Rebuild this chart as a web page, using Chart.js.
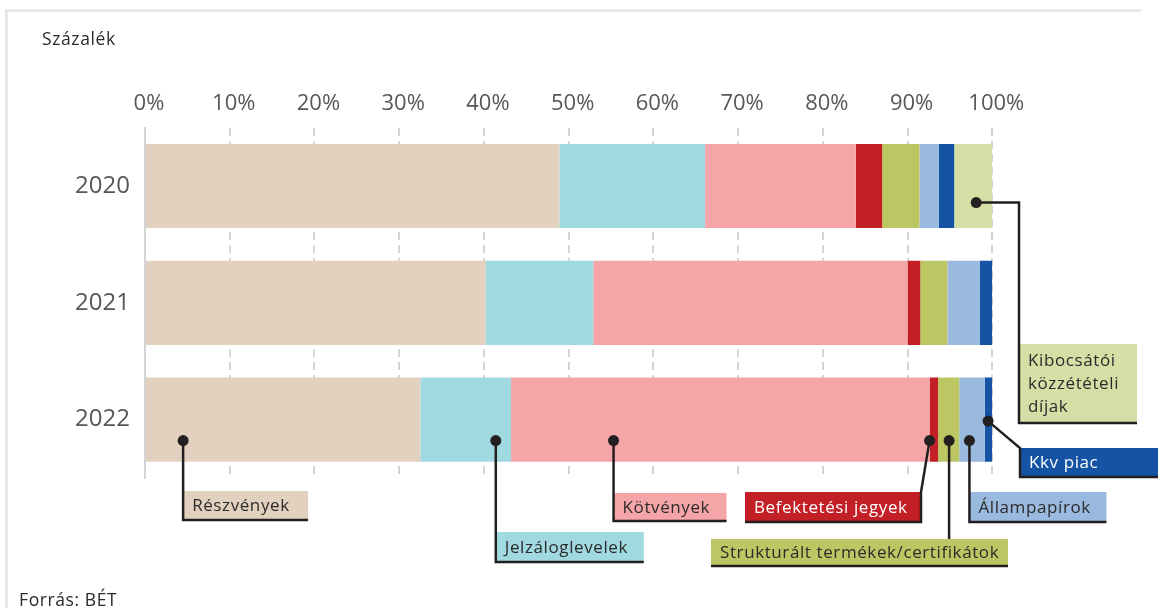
<!DOCTYPE html>
<html lang="hu">
<head>
<meta charset="utf-8">
<title>A BÉT forgalmának megoszlása termékcsoportonként</title>
<script src="https://cdn.jsdelivr.net/npm/chart.js@4.4.1/dist/chart.umd.min.js"></script>
<style>
  html, body { margin: 0; padding: 0; background: #fff; }
  #wrap { position: relative; width: 1158px; height: 608px; }
</style>
</head>
<body>
<div id="wrap"><canvas id="chart" width="1158" height="608"></canvas></div>
<script>
(function () {
  "use strict";

  // --- Adatok (százalék, évenként 100%) ------------------------------------
  var YEARS = ["2020", "2021", "2022"];
  var X_TICKS = [0, 10, 20, 30, 40, 50, 60, 70, 80, 90, 100];

  var SERIES = [
    "Részvények",
    "Jelzáloglevelek",
    "Kötvények",
    "Befektetési jegyek",
    "Strukturált termékek/certifikátok",
    "Állampapírok",
    "Kkv piac",
    "Kibocsátói közzétételi díjak"
  ];

  var RESZVENYEK  = [48.9, 40.2, 32.5];
  var JELZALOG    = [17.2, 12.7, 10.7];
  var KOTVENYEK   = [17.8, 37.1, 49.4];
  var BEFEKTETESI = [3.1, 1.5, 1.0];
  var STRUKTURALT = [4.4, 3.2, 2.5];
  var ALLAMPAPIR  = [2.3, 3.8, 3.0];
  var KKV         = [1.8, 1.5, 0.9];
  var KIBOCSATOI  = [4.5, 0, 0];

  var VALUES = [RESZVENYEK, JELZALOG, KOTVENYEK, BEFEKTETESI, STRUKTURALT, ALLAMPAPIR, KKV, KIBOCSATOI];

  // --- Megjelenés ----------------------------------------------------------
  var COLORS = ["#e2d1bf", "#a0d9e0", "#f5a5a8", "#c21f26", "#bcc662", "#9ab9de", "#1553a4", "#d5dea4"];
  var TEXT_ON = ["#2b2b2b", "#2b2b2b", "#2b2b2b", "#ffffff", "#2b2b2b", "#2b2b2b", "#ffffff", "#2b2b2b"];
  var FONT = "'Open Sans', 'DejaVu Sans', sans-serif";
  var INK = "#231f20";

  // Feliratdobozok: s = sorozat, row = év sora, at = a pötty helye (%),
  // dy = a pötty eltolása a sáv közepétől, box = [x|null, y, w, h].
  var CALLOUTS = [
    { s: 0, row: 2, at: 4.5,  dy: 21,  box: [null, 491, 125, 29], route: "down" },
    { s: 1, row: 2, at: 41.4, dy: 21,  box: [null, 532, 148, 30], route: "down" },
    { s: 2, row: 2, at: 55.3, dy: 21,  box: [null, 493, 113, 28], route: "down" },
    { s: 3, row: 2, at: 92.6, dy: 21,  box: [745, 492, 176, 30], route: "rightEdge" },
    { s: 4, row: 2, at: 94.9, dy: 21,  box: [711, 539, 297, 27], route: "top" },
    { s: 5, row: 2, at: 97.3, dy: 21,  box: [null, 492, 137, 30], route: "down" },
    { s: 6, row: 2, at: 99.5, dy: 1.5, box: [1020, 448, 140, 29], route: "diag" },
    { s: 7, row: 0, at: 98.1, dy: 16.5, box: [1019, 344, 118, 79], route: "elbow",
      lines: ["Kibocsátói", "közzétételi", "díjak"] }
  ];

  // Keret, cím és forrás.
  var frame = {
    id: "frame",
    beforeDraw: function (chart) {
      var ctx = chart.ctx;
      ctx.save();
      ctx.fillStyle = "#e8e8e8";
      ctx.fillRect(5, 9, 3, chart.height - 9);
      ctx.fillRect(5, 9, 1136, 3);
      ctx.fillStyle = "#2b2b2b";
      ctx.font = "17.5px " + FONT;
      ctx.textBaseline = "alphabetic";
      ctx.letterSpacing = "0.6px";
      ctx.fillText("Százalék", 42, 45);
      ctx.fillText("Forrás: BÉT", 19, 606);
      ctx.restore();
    }
  };

  function leaderPoints(c, dx, dy, b) {
    var r = b.x + b.w, bt = b.y + b.h;
    switch (c.route) {
      case "down":      return [[[dx, dy], [b.x, bt], [r, bt]]];
      case "rightEdge": return [[[dx, dy], [r, b.y], [r, bt], [b.x, bt]]];
      case "top":       return [[[dx, dy], [dx, b.y]], [[b.x, bt], [r, bt]]];
      case "diag":      return [[[dx, dy], [b.x, b.y], [b.x, bt], [r, bt]]];
      case "elbow":     return [[[dx, dy], [b.x, dy], [b.x, bt], [r, bt]]];
    }
    return [];
  }

  // Pöttyös mutatóvonalak és színes címkedobozok.
  var callouts = {
    id: "callouts",
    afterDatasetsDraw: function (chart) {
      var ctx = chart.ctx, xs = chart.scales.x, ys = chart.scales.y;
      ctx.save();
      CALLOUTS.forEach(function (c) {
        var dx = xs.getPixelForValue(c.at);
        var dy = ys.getPixelForValue(c.row) + c.dy;
        var b = { x: c.box[0] == null ? dx : c.box[0], y: c.box[1], w: c.box[2], h: c.box[3] };

        ctx.fillStyle = COLORS[c.s];
        ctx.fillRect(b.x, b.y, b.w, b.h);

        ctx.strokeStyle = INK;
        ctx.lineWidth = 2.5;
        ctx.lineJoin = "miter";
        leaderPoints(c, dx, dy, b).forEach(function (path) {
          ctx.beginPath();
          ctx.moveTo(path[0][0], path[0][1]);
          for (var i = 1; i < path.length; i++) ctx.lineTo(path[i][0], path[i][1]);
          ctx.stroke();
        });

        ctx.fillStyle = INK;
        ctx.beginPath();
        ctx.arc(dx, dy, 5.5, 0, Math.PI * 2);
        ctx.fill();

        var lines = c.lines || [SERIES[c.s]];
        var lh = 23;
        ctx.fillStyle = TEXT_ON[c.s];
        ctx.font = "17px " + FONT;
        ctx.letterSpacing = "0.6px";
        ctx.textBaseline = "middle";
        ctx.textAlign = "left";
        var y0 = b.y + b.h / 2 - (lines.length - 1) * lh / 2;
        lines.forEach(function (t, i) { ctx.fillText(t, b.x + 9, y0 + i * lh + 1); });
      });
      ctx.restore();
    }
  };

  var datasets = SERIES.map(function (name, i) {
    return {
      label: name,
      data: VALUES[i],
      backgroundColor: COLORS[i],
      borderWidth: 0,
      barPercentage: 0.72,
      categoryPercentage: 1.0
    };
  });

  new Chart(document.getElementById("chart"), {
    type: "bar",
    data: { labels: YEARS, datasets: datasets },
    plugins: [frame, callouts],
    options: {
      indexAxis: "y",
      responsive: false,
      animation: false,
      layout: { padding: { left: 0, right: 165.7, top: 60, bottom: 130 } },
      plugins: { legend: { display: false }, tooltip: { enabled: false } },
      scales: {
        x: {
          position: "top",
          stacked: true,
          min: 0,
          max: 100,
          afterFit: function (scale) { scale.height = 67.7; },
          afterBuildTicks: function (scale) {
            scale.ticks = X_TICKS.map(function (v) { return { value: v }; });
          },
          grid: { color: "#d4d4d4", lineWidth: 2, drawTicks: false },
          border: { display: false, dash: [8, 5] },
          ticks: {
            padding: 11,
            labelOffset: 4,
            color: "#575757",
            font: { family: FONT, size: 22 },
            callback: function (v) { return v + "%"; }
          }
        },
        y: {
          stacked: true,
          afterFit: function (scale) { scale.width = 145; },
          grid: { display: false, drawTicks: false },
          border: { display: true, color: "#d4d4d4", width: 2 },
          ticks: {
            padding: 15,
            color: "#575757",
            font: { family: FONT, size: 24 }
          }
        }
      }
    }
  });
})();
</script>
</body>
</html>
